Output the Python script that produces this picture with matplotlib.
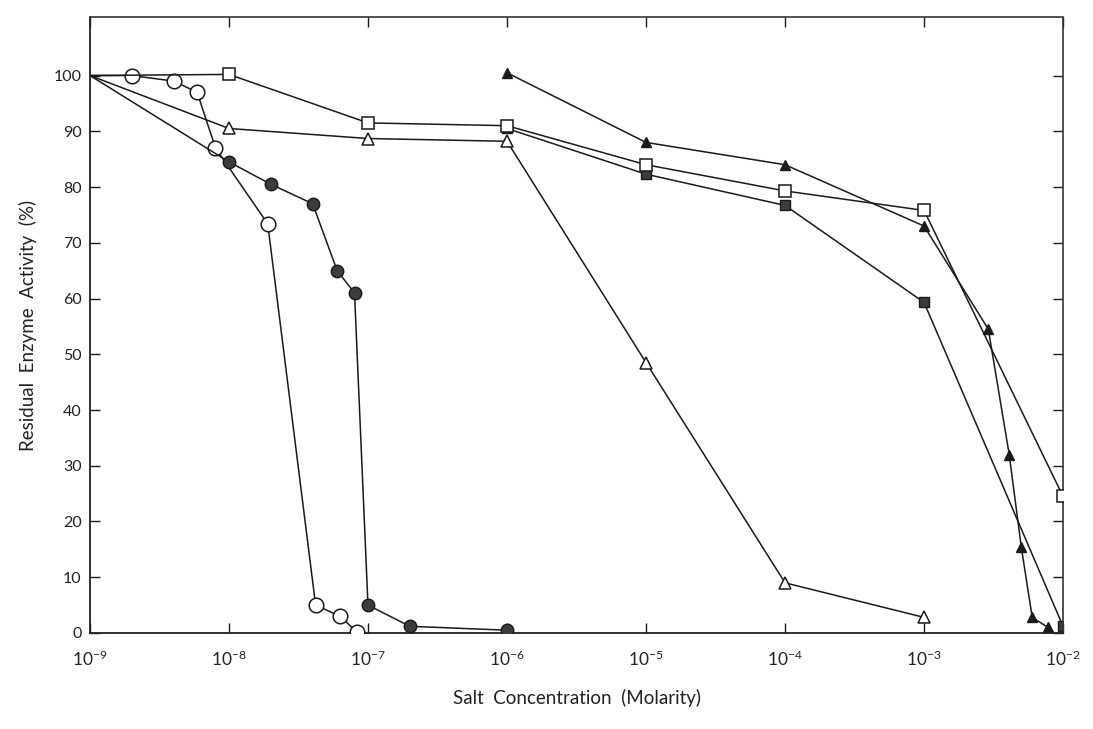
import numpy as np
import matplotlib.pyplot as plt

plt.rcParams['font.family'] = ['Lato', 'DejaVu Sans']
plt.rcParams['mathtext.fontset'] = 'custom'
plt.rcParams['mathtext.rm'] = 'Lato'
plt.rcParams['mathtext.it'] = 'Lato:italic'
plt.rcParams['mathtext.bf'] = 'Lato:bold'

# salt concentration (M) vs residual activity (%) for each salt series
open_circle_x = [1e-9, 2e-9, 4e-9, 5.9e-9, 8e-9, 1.9e-8, 4.2e-8, 6.3e-8, 8.3e-8]
open_circle_y = [100, 100, 99, 97, 87, 73.4, 5.0, 3.0, 0.2]

filled_circle_x = [1e-9, 1e-8, 2e-8, 4e-8, 6e-8, 8e-8, 1e-7, 2e-7, 1e-6]
filled_circle_y = [100, 84.5, 80.5, 77, 65, 61, 5, 1.2, 0.5]

open_square_x = [1e-9, 1e-8, 1e-7, 1e-6, 1e-5, 1e-4, 1e-3, 1e-2]
open_square_y = [100, 100.2, 91.5, 91, 84, 79.3, 75.8, 24.5]

filled_square_x = [1e-6, 1e-5, 1e-4, 1e-3, 1e-2]
filled_square_y = [90.5, 82.3, 76.7, 59.3, 1.2]

filled_tri_x = [1e-6, 1e-5, 1e-4, 1e-3, 2.9e-3, 4.1e-3, 5e-3, 6e-3, 7.8e-3]
filled_tri_y = [100.5, 88, 84, 73, 54.5, 32, 15.5, 2.8, 1.0]

open_tri_x = [1e-9, 1e-8, 1e-7, 1e-6, 1e-5, 1e-4, 1e-3]
open_tri_y = [100, 90.5, 88.7, 88.2, 48.5, 9.0, 2.8]

decades = [1e-9, 1e-8, 1e-7, 1e-6, 1e-5, 1e-4, 1e-3, 1e-2]
decade_labels = [r'$\mathregular{10^{-%d}}$' % k for k in range(9, 1, -1)]
y_ticks = list(range(0, 101, 10))

fig = plt.figure(figsize=(10.93, 7.29), dpi=100)
ax = fig.add_axes([0.0823, 0.1317, 0.8903, 0.845])

ink = '#1a1a1a'
fill = '#3c3c3c'
lw = 1.1
skip_first = slice(1, None)

ax.plot(open_circle_x, open_circle_y, '-o', color=ink, lw=lw, ms=10.5,
        mfc='white', mec=ink, mew=1.1, markevery=skip_first, zorder=3)
ax.plot(filled_circle_x, filled_circle_y, '-o', color=ink, lw=lw, ms=9,
        mfc=fill, mec=ink, mew=1.0, markevery=skip_first, zorder=3)
ax.plot(open_square_x, open_square_y, '-s', color=ink, lw=lw, ms=8,
        mfc='white', mec=ink, mew=1.1, markevery=skip_first, zorder=3)
ax.plot(filled_square_x, filled_square_y, '-s', color=ink, lw=lw, ms=7.5,
        mfc=fill, mec=ink, mew=1.0, zorder=2)
ax.plot(filled_tri_x, filled_tri_y, '-^', color=ink, lw=lw, ms=7.5,
        mfc=ink, mec=ink, mew=1.0, zorder=3)
ax.plot(open_tri_x, open_tri_y, '-^', color=ink, lw=lw, ms=8,
        mfc='white', mec=ink, mew=1.1, markevery=skip_first, zorder=3)

ax.set_xscale('log')
ax.set_xlim(1e-9, 1e-2)
ax.set_ylim(0, 110.5)
ax.set_xticks(decades)
ax.set_xticklabels(decade_labels)
ax.xaxis.set_minor_locator(plt.NullLocator())
ax.set_yticks(y_ticks)

ax.tick_params(axis='both', direction='in', length=7, width=1.0, color=ink,
               top=True, right=True, labelcolor='#222222', labelsize=11.5)
ax.tick_params(axis='x', pad=12, labelsize=12.5)
ax.tick_params(axis='y', pad=6)

# scanned-look frame: solid left/bottom, grainy top/right
for side in ['left', 'bottom']:
    ax.spines[side].set_linewidth(1.3)
    ax.spines[side].set_color('#222222')
for side in ['top', 'right']:
    ax.spines[side].set_linewidth(1.2)
    ax.spines[side].set_color('#333333')
    ax.spines[side].set_linestyle((0, (4, 1)))

ax.set_xlabel('Salt  Concentration  (Molarity)', fontsize=13.5, color='#222222',
              labelpad=14)
ax.set_ylabel('Residual  Enzyme  Activity  (%)', fontsize=13.5, color='#222222',
              labelpad=12)

fig.savefig('out.png', dpi=100)
